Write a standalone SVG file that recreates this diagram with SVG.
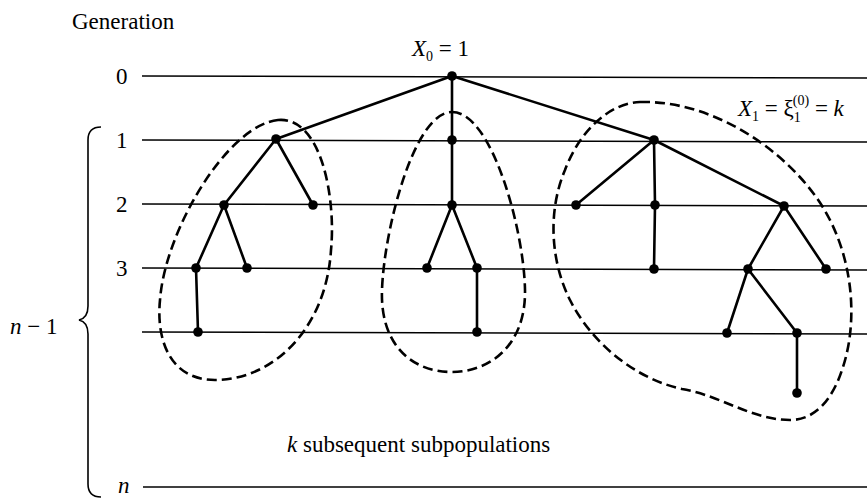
<svg xmlns="http://www.w3.org/2000/svg" width="867" height="498" viewBox="0 0 867 498">
<style>
text{font-family:"Liberation Serif","Tinos","Times New Roman","Noto Serif","DejaVu Serif",serif;fill:#000;font-size:23px}
.it{font-style:italic}
.sub{font-size:14px}
.gl{stroke:#000;stroke-width:1.6;fill:none}
.e{stroke:#000;stroke-width:2.6;fill:none;stroke-linecap:round}
.d{fill:#000}
.loop{stroke:#000;stroke-width:2.6;fill:none;stroke-dasharray:10 5}
</style>
<rect width="867" height="498" fill="#fff"/>
<g id="labels">
<text x="72" y="29">Generation</text>
<text x="116" y="84">0</text>
<text x="116" y="148">1</text>
<text x="116" y="212">2</text>
<text x="116" y="276">3</text>
<text x="118" y="493" class="it">n</text>
<text x="10" y="334"><tspan class="it">n</tspan> − 1</text>
<text x="412" y="56"><tspan class="it">X</tspan><tspan class="sub" dy="5">0</tspan><tspan dy="-5"> = 1</tspan></text>
<text x="738" y="116"><tspan class="it">X</tspan><tspan class="sub" dy="5">1</tspan><tspan dy="-5"> = ξ</tspan><tspan class="sub" dy="6">1</tspan><tspan class="sub" dx="-8" dy="-17">(0)</tspan><tspan dy="11"> = </tspan><tspan class="it">k</tspan></text>
<text x="287" y="452" font-size="24"><tspan class="it">k</tspan> subsequent subpopulations</text>
</g>
<g id="brace">
<path class="gl" d="M101,127 Q88,127 88,140 L88,306 Q88,318 79,320 Q88,322 88,334 L88,484 Q88,497 101,497"/>
</g>
<g id="generation-lines">
<line class="gl" x1="142" y1="76" x2="867" y2="78"/>
<line class="gl" x1="142" y1="140" x2="867" y2="142"/>
<line class="gl" x1="142" y1="204" x2="867" y2="206"/>
<line class="gl" x1="142" y1="268" x2="867" y2="270"/>
<line class="gl" x1="142" y1="332" x2="867" y2="334"/>
<line class="gl" x1="143" y1="487" x2="867" y2="487"/>
</g>
<g id="subpopulations">
<path class="loop" d="M278,120 C322,116 336,200 331,250 C326,330 272,380 215,380 C170,380 156,340 160,300 C165,230 228,125 278,120 Z"/>
<path class="loop" d="M452,112 C492,112 524,230 525,290 C526,345 490,372 452,372 C412,372 380,345 382,290 C384,230 414,112 452,112 Z"/>
<path class="loop" d="M640,102 C720,100 800,160 830,220 C856,272 856,330 842,370 C832,400 815,420 790,420 C752,420 722,396 682,389 C632,378 590,340 570,300 C550,260 548,210 565,170 C580,130 610,103 640,102 Z"/>
</g>
<g id="connectors">
<path class="e" d="M452,76 L276,139 M452,76 L452,140 M452,76 L654,140"/>
<path class="e" d="M276,139 L224,205 M276,139 L313,205 M224,205 L196,268 M224,205 L247,268 M196,268 L198,332"/>
<path class="e" d="M452,140 L452,205 M452,205 L427,268 M452,205 L477,268 M477,268 L477,332"/>
<path class="e" d="M654,140 L576,205 M654,140 L655,205 M654,140 L784,206 M655,205 L654,269 M784,206 L748,269 M784,206 L826,269 M748,269 L727,333 M748,269 L797,333 M797,333 L797,393"/>
</g>
<g id="nodes">
<circle id="n0" class="d" cx="452" cy="76" r="4.8"/>
<circle id="n1a" class="d" cx="276" cy="139" r="4.8"/>
<circle id="n1b" class="d" cx="452" cy="140" r="4.8"/>
<circle id="n1c" class="d" cx="654" cy="140" r="4.8"/>
<circle class="d" cx="224" cy="205" r="4.8"/>
<circle class="d" cx="313" cy="205" r="4.8"/>
<circle class="d" cx="196" cy="268" r="4.8"/>
<circle class="d" cx="247" cy="268" r="4.8"/>
<circle class="d" cx="198" cy="332" r="4.8"/>
<circle class="d" cx="452" cy="205" r="4.8"/>
<circle class="d" cx="427" cy="268" r="4.8"/>
<circle class="d" cx="477" cy="268" r="4.8"/>
<circle class="d" cx="477" cy="332" r="4.8"/>
<circle class="d" cx="576" cy="205" r="4.8"/>
<circle class="d" cx="655" cy="205" r="4.8"/>
<circle class="d" cx="784" cy="206" r="4.8"/>
<circle class="d" cx="654" cy="269" r="4.8"/>
<circle class="d" cx="748" cy="269" r="4.8"/>
<circle class="d" cx="826" cy="269" r="4.8"/>
<circle class="d" cx="727" cy="333" r="4.8"/>
<circle class="d" cx="797" cy="333" r="4.8"/>
<circle class="d" cx="797" cy="393" r="4.8"/>
</g>
</svg>
